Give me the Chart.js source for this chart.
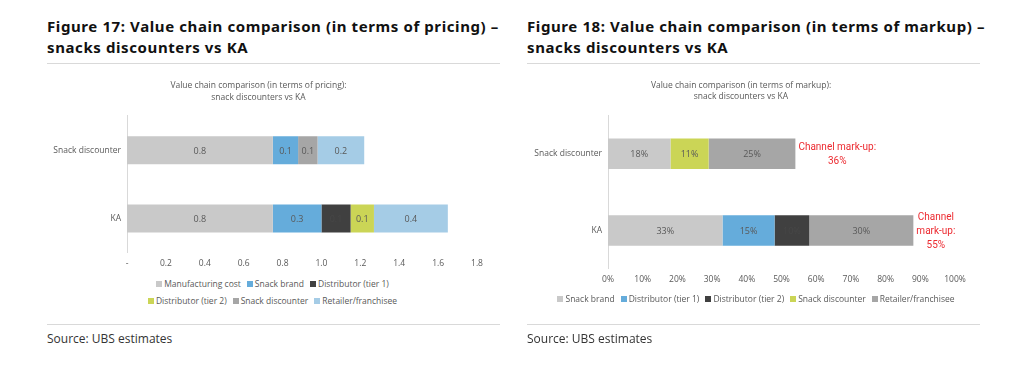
<!DOCTYPE html>
<html>
<head>
<meta charset="utf-8">
<script src="https://cdn.jsdelivr.net/npm/chart.js@4.4.0/dist/chart.umd.min.js"></script>
<style>
  body { margin: 0; width: 1024px; height: 368px; background: #fff; position: relative; overflow: hidden; font-family: 'Open Sans', sans-serif; }
  .heading { position: absolute; top: 16px; font: bold 15px 'Noto Sans', sans-serif; letter-spacing: 0.6px; line-height: 21px; color: #111; white-space: nowrap; }
  .rule { position: absolute; height: 1px; background: #d9d9d9; width: 453px; }
  .source { position: absolute; top: 330px; font-size: 12px; color: #333; }
  .box { position: absolute; }
  .legend { position: absolute; display: flex; flex-wrap: wrap; justify-content: center; font-size: 8.5px; line-height: 17px; color: #595959; }
  .legend span { display: inline-flex; align-items: center; margin: 0 3px; white-space: nowrap; }
  .legend i { width: 6px; height: 6px; margin-right: 2px; display: inline-block; }
</style>
</head>
<body>
<div class="heading" style="left:47px">Figure 17: Value chain comparison (in terms of pricing) –<br>snacks discounters vs KA</div>
<div class="heading" style="left:527px">Figure 18: Value chain comparison (in terms of markup) –<br>snacks discounters vs KA</div>
<div class="rule" style="left:47px;top:63px"></div>
<div class="rule" style="left:527px;top:63px"></div>

<div class="box" style="left:40px;top:70px;width:460px;height:205px"><canvas id="pricing"></canvas></div>
<div class="legend" id="pricingLegend" style="left:140px;top:275px;width:265px"></div>

<div class="box" style="left:527px;top:70px;width:458px;height:221px"><canvas id="markup"></canvas></div>
<div class="legend" id="markupLegend" style="left:527px;top:290px;width:458px"></div>

<div class="rule" style="left:47px;top:324px"></div>
<div class="rule" style="left:527px;top:324px"></div>
<div class="source" style="left:47px">Source: UBS estimates</div>
<div class="source" style="left:527px">Source: UBS estimates</div>

<script>
// Figure 17 - pricing
const pricingCats = ['Snack discounter', 'KA'];
const pricingTicks = ['-', '0.2', '0.4', '0.6', '0.8', '1.0', '1.2', '1.4', '1.6', '1.8'];
const manufacturing = [0.75, 0.75];
const snackBrand = [0.13, 0.25];
const distTier1 = [0, 0.15];
const distTier2 = [0, 0.12];
const snackDiscounter = [0.10, 0];
const retailer = [0.24, 0.38];

// Figure 18 - markup (%)
const markupCats = ['Snack discounter', 'KA'];
const markupTicks = ['0%', '10%', '20%', '30%', '40%', '50%', '60%', '70%', '80%', '90%', '100%'];
const mkSnackBrand = [18, 33];
const mkTier1 = [0, 15];
const mkTier2 = [0, 10];
const mkSnackDiscounter = [11, 0];
const mkRetailer = [25, 30];
const markupNotes = [['Channel mark-up:', '36%'], ['Channel', 'mark-up:', '55%']];

const C = {
  lightGrey: '#c9c9c9',
  blue: '#65acdb',
  black: '#404040',
  green: '#cbd556',
  grey: '#a6a6a6',
  lightBlue: '#a5cce6',
};

Chart.defaults.font.family = "'Open Sans', sans-serif";
Chart.defaults.font.size = 8.5;
Chart.defaults.color = '#595959';

function barText(fmt) {
  return {
    id: 'barText',
    afterDatasetsDraw(chart) {
      const ctx = chart.ctx;
      ctx.save();
      ctx.font = "9px 'Open Sans', sans-serif";
      ctx.textAlign = 'center';
      ctx.textBaseline = 'middle';
      chart.data.datasets.forEach((ds, i) => {
        // labels on the dark segment almost vanish, like the original
        ctx.fillStyle = ds.backgroundColor === C.black ? '#474747' : '#595959';
        chart.getDatasetMeta(i).data.forEach((bar, j) => {
          const v = ds.data[j];
          if (!v) return;
          const p = bar.getCenterPoint();
          ctx.fillText(fmt(v), p.x, p.y + 1);
        });
      });
      ctx.restore();
    },
  };
}

const markupNote = {
  id: 'markupNote',
  afterDatasetsDraw(chart) {
    const { ctx, scales: { x, y } } = chart;
    ctx.save();
    ctx.font = '10px Roboto, sans-serif';
    ctx.fillStyle = '#ec2a30';
    ctx.textAlign = 'center';
    ctx.textBaseline = 'middle';
    markupNotes.forEach((lines, i) => {
      const total = chart.data.datasets.reduce((s, ds) => s + ds.data[i], 0);
      const w = Math.max(...lines.map((t) => ctx.measureText(t).width));
      const cx = x.getPixelForValue(total) + 3 + w / 2;
      const lh = 14;
      const top = y.getPixelForValue(i) + 1 - ((lines.length - 1) * lh) / 2;
      lines.forEach((t, k) => ctx.fillText(t, cx, top + k * lh));
    });
    ctx.restore();
  },
};

function buildLegend(chart, id) {
  const el = document.getElementById(id);
  chart.data.datasets.forEach((ds) => {
    const item = document.createElement('span');
    const sw = document.createElement('i');
    sw.style.background = ds.backgroundColor;
    item.appendChild(sw);
    item.appendChild(document.createTextNode(ds.label));
    el.appendChild(item);
  });
}

function makeOptions(title, xMin, xMax, step, ticks, yWidth, padRight, padTop) {
  return {
    indexAxis: 'y',
    responsive: true,
    maintainAspectRatio: false,
    animation: false,
    layout: { padding: { left: 0, right: padRight, top: 0, bottom: 0 } },
    scales: {
      x: {
        stacked: true,
        min: xMin,
        max: xMax,
        ticks: { stepSize: step, padding: 6, maxRotation: 0, autoSkip: false, callback: (v, i) => ticks[i] },
        grid: { display: false, drawTicks: false },
        border: { display: false },
      },
      y: {
        stacked: true,
        grid: { display: false, drawTicks: false },
        border: { color: '#d9d9d9' },
        ticks: { padding: 6 },
        afterFit: (scale) => { scale.width = yWidth; },
      },
    },
    plugins: {
      legend: { display: false },
      tooltip: { enabled: false },
      title: {
        display: true,
        text: title,
        color: '#595959',
        font: { size: 8.5, weight: 'normal', lineHeight: 1.35 },
        padding: { top: padTop, bottom: 13 },
      },
    },
  };
}

const bar = (label, data, color, pct) => ({
  label, data, backgroundColor: color, categoryPercentage: pct, barPercentage: 1,
});

const pricingChart = new Chart(document.getElementById('pricing'), {
  type: 'bar',
  data: {
    labels: pricingCats,
    datasets: [
      bar('Manufacturing cost', manufacturing, C.lightGrey, 0.41),
      bar('Snack brand', snackBrand, C.blue, 0.41),
      bar('Distributor (tier 1)', distTier1, C.black, 0.41),
      bar('Distributor (tier 2)', distTier2, C.green, 0.41),
      bar('Snack discounter', snackDiscounter, C.grey, 0.41),
      bar('Retailer/franchisee', retailer, C.lightBlue, 0.41),
    ],
  },
  options: makeOptions(
    ['Value chain comparison (in terms of pricing):', 'snack discounters vs KA'],
    0, 1.8, 0.2, pricingTicks, 87, 23, 10
  ),
  plugins: [barText((v) => v.toFixed(1))],
});
buildLegend(pricingChart, 'pricingLegend');

const markupChart = new Chart(document.getElementById('markup'), {
  type: 'bar',
  data: {
    labels: markupCats,
    datasets: [
      bar('Snack brand', mkSnackBrand, C.lightGrey, 0.4),
      bar('Distributor (tier 1)', mkTier1, C.blue, 0.4),
      bar('Distributor (tier 2)', mkTier2, C.black, 0.4),
      bar('Snack discounter', mkSnackDiscounter, C.green, 0.4),
      bar('Retailer/franchisee', mkRetailer, C.grey, 0.4),
    ],
  },
  options: makeOptions(
    ['Value chain comparison (in terms of markup):', 'snack discounters vs KA'],
    0, 100, 10, markupTicks, 81, 30, 9.5
  ),
  plugins: [barText((v) => v + '%'), markupNote],
});
buildLegend(markupChart, 'markupLegend');
</script>
</body>
</html>
